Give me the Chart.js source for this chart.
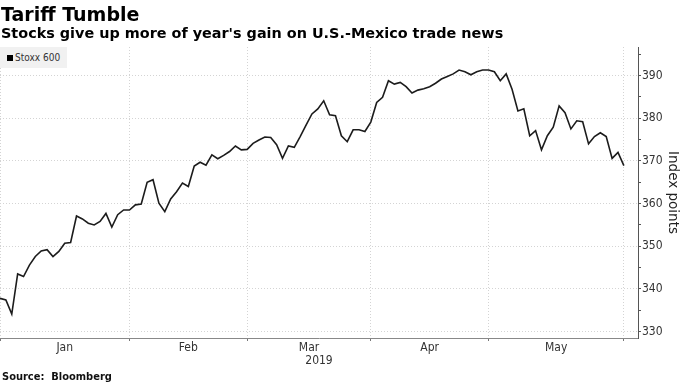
<!DOCTYPE html>
<html>
<head>
<meta charset="utf-8">
<script src="https://cdn.jsdelivr.net/npm/chart.js@4.4.1/dist/chart.umd.min.js"></script>
<style>
  html, body { margin: 0; padding: 0; background: #fff; }
  #wrap { position: relative; width: 683px; height: 384px; overflow: hidden; font-family: "DejaVu Sans", sans-serif; }
  #chart { position: absolute; left: 0; top: 0; }
  .head { position: absolute; left: 1px; white-space: nowrap; font-weight: bold; color: #000; line-height: 1; }
  #title { top: 5px; font-size: 19px; }
  #subtitle { top: 26px; font-size: 14.4px; }
  #source { left: 2px; top: 371px; font-size: 11px; color: #111; font-family: "DejaVu Sans Condensed", "DejaVu Sans", sans-serif; }
  #legend { position: absolute; left: 0; top: 47px; width: 67px; height: 21px; background: #f1f1f1;
            font-family: "DejaVu Sans Condensed", "DejaVu Sans", sans-serif; font-size: 10px; color: #333; line-height: 21px; }
  #legend i { position: absolute; left: 7px; top: 8px; width: 6px; height: 6px; background: #000; }
  #legend span { position: absolute; left: 15px; top: 0; }
</style>
</head>
<body>
<div id="wrap">
  <canvas id="chart" width="683" height="384"></canvas>
  <div id="title" class="head">Tariff Tumble</div>
  <div id="subtitle" class="head">Stocks give up more of year's gain on U.S.-Mexico trade news</div>
  <div id="legend"><i></i><span>Stoxx 600</span></div>
  <div id="source" class="head">Source:&nbsp; Bloomberg</div>
</div>
<script>
// Stoxx 600 daily close, Jan 2 - May 31, 2019 (trading days)
const stoxx = [
  337.8, 337.4, 334.1, 343.5, 342.9, 345.6, 347.6, 348.9, 349.2, 347.6,
  348.8, 350.7, 350.9, 357.1, 356.4, 355.4, 355.0, 355.8, 357.7, 354.5,
  357.4, 358.5, 358.5, 359.7, 359.9, 365.0, 365.6, 360.1, 358.1, 361.1,
  362.8, 364.8, 364.0, 368.8, 369.7, 369.0, 371.4, 370.5, 371.3, 372.2,
  373.5, 372.6, 372.7, 374.1, 374.9, 375.6, 375.5, 373.8, 370.6, 373.5,
  373.2, 375.7, 378.4, 381.0, 382.2, 384.1, 380.8, 380.6, 375.9, 374.5,
  377.3, 377.3, 376.9, 379.1, 383.7, 384.9, 388.8, 388.0, 388.4, 387.4,
  385.9, 386.6, 386.9, 387.4, 388.2, 389.2, 389.8, 390.4, 391.3, 390.9,
  390.2, 390.9, 391.3, 391.3, 390.9, 388.8, 390.4, 386.8, 381.7, 382.2,
  375.9, 377.1, 372.6, 375.9, 377.9, 382.9, 381.3, 377.5, 379.4, 379.2,
  374.0, 375.7, 376.6, 375.7, 370.6, 372.0, 368.9
];
// month boundaries and label positions, in trading-day index
const monthBounds = [0, 22, 42, 63, 83, 106];
const monthMids = [11, 32, 52.5, 73, 94.5];
const monthLabels = ['Jan', 'Feb', 'Mar', 'Apr', 'May'];
const yearLabel = '2019';
const yMajor = [330, 340, 350, 360, 370, 380, 390];
const yMinor = [335, 345, 355, 365, 375, 385, 395];

const tickFont = { family: '"DejaVu Sans Condensed", "DejaVu Sans", sans-serif', size: 12 };
const xMax = 108.4;

const data = {
  datasets: [{
    label: 'Stoxx 600',
    data: stoxx.map((v, i) => ({ x: i, y: v })),
    borderColor: '#1c1c1c',
    borderWidth: 1.6,
    pointRadius: 0,
    tension: 0,
  }]
};

new Chart(document.getElementById('chart'), {
  type: 'line',
  data,
  options: {
    responsive: false,
    animation: false,
    layout: { padding: { top: 47, left: 0, right: 0, bottom: 15 } },
    plugins: { legend: { display: false }, tooltip: { enabled: false } },
    scales: {
      x: {
        type: 'linear', min: 0, max: xMax, position: 'bottom',
        afterBuildTicks: (s) => { s.ticks = monthBounds.map((v) => ({ value: v })); },
        afterFit: (s) => { s.height = 3; },
        ticks: { display: false },
        grid: { color: '#d4d4d4', tickColor: '#777', tickLength: 3 },
        border: { color: '#888', width: 1, dash: [1, 2] },
      },
      x2: {
        type: 'linear', min: 0, max: xMax, position: 'bottom',
        afterBuildTicks: (s) => { s.ticks = monthMids.map((v) => ({ value: v })); },
        afterFit: (s) => { s.height = 28; },
        ticks: {
          callback: (v, i) => monthLabels[i],
          font: tickFont, color: '#333', padding: 0, maxRotation: 0, autoSkip: false,
        },
        grid: { display: false, drawTicks: false },
        border: { display: false },
        title: { display: true, text: yearLabel, font: tickFont, color: '#333', padding: { top: 0, bottom: 1 } },
      },
      y: {
        position: 'right', min: 328.5, max: 396.7,
        afterBuildTicks: (s) => {
          s.ticks = yMajor.concat(yMinor).sort((a, b) => a - b).map((v) => ({ value: v }));
        },
        afterFit: (s) => { s.width = 45; },
        ticks: {
          callback: (v) => (yMajor.includes(v) ? String(v) : ''),
          font: tickFont, color: '#333', padding: 1,
        },
        grid: {
          color: (c) => (c.tick && yMajor.includes(c.tick.value) ? '#d4d4d4' : 'rgba(0,0,0,0)'),
          tickColor: '#555', tickLength: 3,
        },
        border: { color: '#555', width: 1, dash: [1, 2] },
        title: {
          display: true, text: 'Index points',
          font: { family: '"DejaVu Sans", sans-serif', size: 13.5 }, color: '#222',
          padding: { top: 2, bottom: 0 },
        },
      },
    },
  },
});
</script>
</body>
</html>
